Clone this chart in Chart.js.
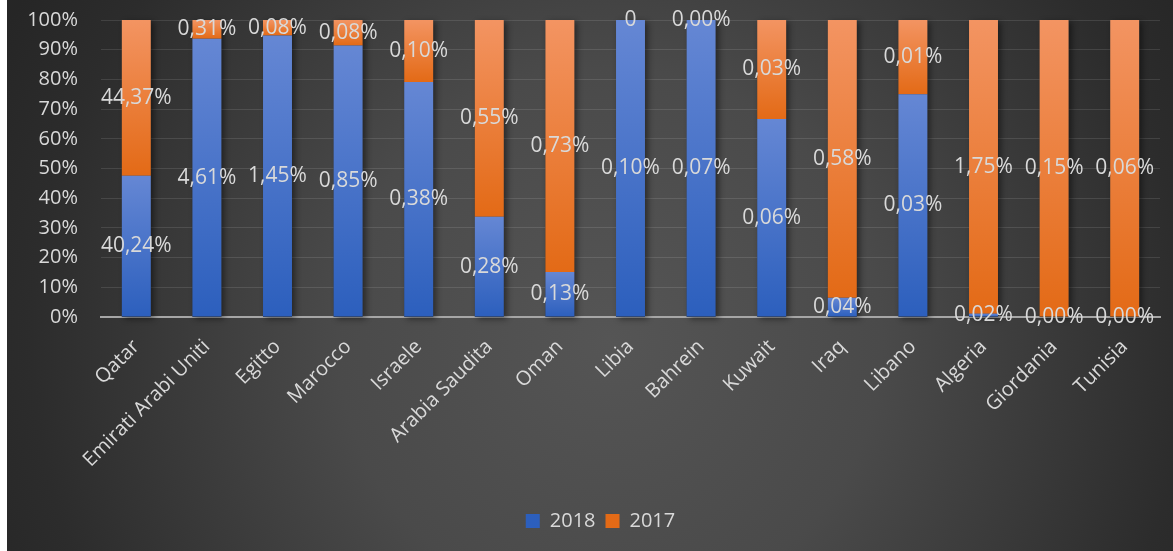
<!DOCTYPE html>
<html>
<head>
<meta charset="utf-8">
<script src="https://cdn.jsdelivr.net/npm/chart.js@4"></script>
<style>
    body { margin: 0; background: #ffffff; }
    #wrap { position: absolute; left: 7px; top: 0; width: 1166px; height: 551px; }
</style>
</head>
<body>
<div id="wrap"><canvas id="chart" width="1166" height="551"></canvas></div>
<script>
const categories = ['Qatar', 'Emirati Arabi Uniti', 'Egitto', 'Marocco', 'Israele', 'Arabia Saudita', 'Oman',
    'Libia', 'Bahrein', 'Kuwait', 'Iraq', 'Libano', 'Algeria', 'Giordania', 'Tunisia'];
const values2018 = [40.24, 4.61, 1.45, 0.85, 0.38, 0.28, 0.13, 0.10, 0.07, 0.06, 0.04, 0.03, 0.02, 0.00, 0.00];
const values2017 = [44.37, 0.31, 0.08, 0.08, 0.10, 0.55, 0.73, 0, 0.00, 0.03, 0.58, 0.01, 1.75, 0.15, 0.06];
const labels2018 = ['40,24%', '4,61%', '1,45%', '0,85%', '0,38%', '0,28%', '0,13%', '0,10%', '0,07%', '0,06%', '0,04%', '0,03%', '0,02%', '0,00%', '0,00%'];
const labels2017 = ['44,37%', '0,31%', '0,08%', '0,08%', '0,10%', '0,55%', '0,73%', '0', '0,00%', '0,03%', '0,58%', '0,01%', '1,75%', '0,15%', '0,06%'];
const yTicks = [0, 10, 20, 30, 40, 50, 60, 70, 80, 90, 100];

// 100% gestapelt: Anteil pro Land
const share2018 = values2018.map((v, i) => v / (v + values2017[i]) * 100);
const share2017 = values2017.map((v, i) => v / (v + values2018[i]) * 100);

const textColor = '#d9d9d9';
const font = 'Open Sans';

// Verlauf pro Segment (oben hell, unten dunkel)
function barFill(ctx, light, dark, solid) {
    const chart = ctx.chart;
    const y = chart.scales.y;
    if (ctx.type !== 'data' || !chart.chartArea || !y) return solid;
    const i = ctx.dataIndex;
    const lo = ctx.datasetIndex === 0 ? 0 : share2018[i];
    const hi = ctx.datasetIndex === 0 ? share2018[i] : 100;
    const top = y.getPixelForValue(hi);
    const bot = y.getPixelForValue(lo);
    if (bot - top < 1) return solid;
    const g = chart.ctx.createLinearGradient(0, top, 0, bot);
    g.addColorStop(0, light);
    g.addColorStop(1, dark);
    return g;
}

const background = {
    id: 'background',
    beforeDraw(chart) {
        const c = chart.ctx;
        const g = c.createRadialGradient(603, 340, 0, 603, 340, 680);
        g.addColorStop(0, '#555555');
        g.addColorStop(0.4, '#4a4a4a');
        g.addColorStop(0.85, '#2c2c2c');
        g.addColorStop(1, '#262626');
        c.save();
        c.fillStyle = g;
        c.fillRect(0, 0, chart.width, chart.height);
        c.restore();
    }
};

// Legende leicht nach rechts wie im Original
const legendShift = {
    id: 'legendShift',
    afterLayout(chart) {
        chart.legend.left += 17;
        chart.legend.right += 17;
    }
};

const barShadow = {
    id: 'barShadow',
    beforeDatasetsDraw(chart) {
        const c = chart.ctx;
        const y = chart.scales.y;
        const meta = chart.getDatasetMeta(0);
        const top = y.getPixelForValue(100);
        const bot = y.getPixelForValue(0);
        c.save();
        c.shadowColor = 'rgba(0,0,0,0.45)';
        c.shadowBlur = 6;
        c.shadowOffsetX = 3;
        c.shadowOffsetY = 2;
        c.fillStyle = '#333333';
        meta.data.forEach(bar => {
            c.fillRect(bar.x - bar.width / 2, top, bar.width, bot - top);
        });
        c.restore();
    }
};

const valueLabels = {
    id: 'valueLabels',
    afterDatasetsDraw(chart) {
        const c = chart.ctx;
        const texts = [labels2018, labels2017];
        c.save();
        c.font = '21px "' + font + '"';
        c.fillStyle = textColor;
        c.textAlign = 'center';
        c.textBaseline = 'middle';
        texts.forEach((list, d) => {
            chart.getDatasetMeta(d).data.forEach((bar, i) => {
                c.fillText(list[i], bar.x, (bar.y + bar.base) / 2);
            });
        });
        c.restore();
    }
};

new Chart(document.getElementById('chart'), {
    type: 'bar',
    data: {
        labels: categories,
        datasets: [
            {
                label: '2018',
                data: share2018,
                backgroundColor: ctx => barFill(ctx, '#6587d4', '#2c5fbd', '#4472c4'),
                barPercentage: 0.41,
                categoryPercentage: 1
            },
            {
                label: '2017',
                data: share2017,
                backgroundColor: ctx => barFill(ctx, '#f39462', '#e36a16', '#ed7d31'),
                barPercentage: 0.41,
                categoryPercentage: 1
            }
        ]
    },
    options: {
        responsive: false,
        animation: false,
        layout: { padding: { top: 20, right: 13, left: 0, bottom: 10 } },
        scales: {
            x: {
                stacked: true,
                z: 1,
                grid: { display: false, drawTicks: false },
                border: { display: true, color: '#a6a6a6', width: 2 },
                ticks: {
                    color: textColor,
                    font: { family: font, size: 20 },
                    maxRotation: 45,
                    minRotation: 45,
                    autoSkip: false,
                    padding: 18
                },
                afterFit: scale => {
                    scale.height = 184;
                    scale.paddingTop = 0;
                    scale.paddingBottom = 0;
                }
            },
            y: {
                stacked: true,
                min: 0,
                max: 100,
                afterBuildTicks: scale => { scale.ticks = yTicks.map(v => ({ value: v })); },
                grid: { color: 'rgba(255,255,255,0.11)', lineWidth: 1, drawTicks: false },
                border: { display: false },
                ticks: {
                    color: textColor,
                    font: { family: font, size: 20 },
                    padding: 23,
                    callback: v => v + '%'
                },
                afterFit: scale => {
                    scale.width = 94;
                    scale.paddingTop = 0;
                    scale.paddingBottom = 0;
                }
            }
        },
        plugins: {
            legend: {
                position: 'bottom',
                labels: {
                    color: textColor,
                    font: { family: font, size: 20 },
                    boxWidth: 14,
                    boxHeight: 14,
                    padding: 10
                }
            },
            tooltip: { enabled: false }
        }
    },
    plugins: [background, legendShift, barShadow, valueLabels]
});
</script>
</body>
</html>
